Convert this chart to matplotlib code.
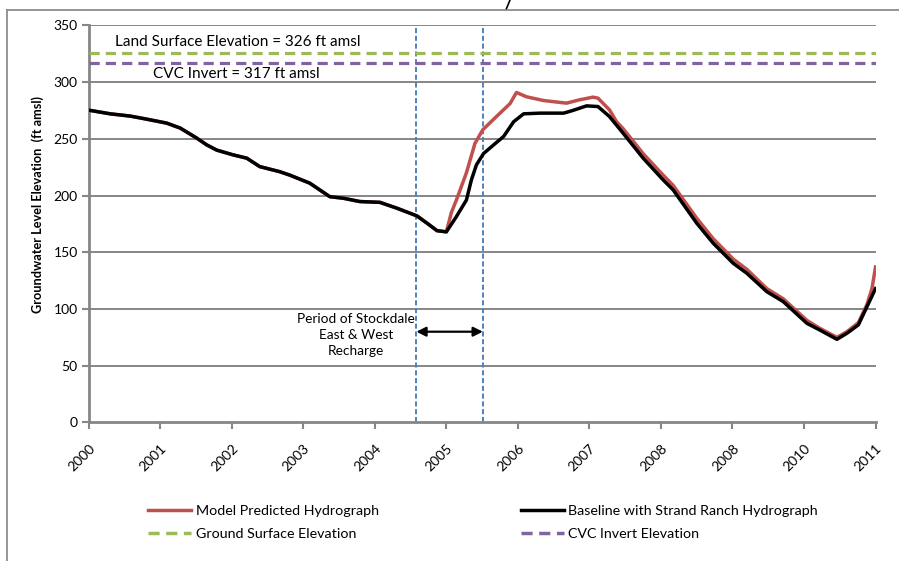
import matplotlib
matplotlib.use("Agg")
import matplotlib.pyplot as plt
from matplotlib.lines import Line2D

plt.rcParams['font.family'] = ['Lato', 'DejaVu Sans']

# baseline hydrograph (black)
base_years = [2000.02, 2000.30, 2000.58, 2000.81, 2001.09, 2001.28, 2001.51, 2001.65,
              2001.79, 2002.02, 2002.21, 2002.39, 2002.67, 2002.81, 2003.09, 2003.37,
              2003.56, 2003.79, 2004.07, 2004.31, 2004.59, 2004.73, 2004.87, 2005.00,
              2005.14, 2005.28, 2005.35, 2005.42, 2005.52, 2005.66, 2005.80, 2005.94,
              2006.08, 2006.31, 2006.64, 2006.77, 2006.96, 2007.12, 2007.28, 2007.47,
              2007.75, 2008.03, 2008.17, 2008.50, 2008.73, 2009.01, 2009.20, 2009.48,
              2009.71, 2010.04, 2010.22, 2010.46, 2010.60, 2010.76, 2010.88, 2011.00]
base_vals = [275, 272, 270, 267.3, 263.8, 259.4, 250.6, 244.6,
             240, 235.8, 232.9, 225.5, 221, 218, 210.9, 199,
             197.6, 194.7, 194, 188.8, 182, 175.6, 169, 168,
             181.4, 196, 213.8, 227, 237, 244.6, 252, 265,
             272, 272.6, 272.6, 275, 279, 278.4, 269.6, 255,
             233, 213.8, 205, 175.6, 158, 140.3, 131.5, 115.3,
             106.5, 87.4, 81.5, 73.3, 78.6, 86, 102, 118]

# model predicted hydrograph (red)
model_years = [2000.02, 2000.30, 2000.58, 2000.81, 2001.09, 2001.28, 2001.51, 2001.65,
               2001.79, 2002.02, 2002.21, 2002.39, 2002.67, 2002.81, 2003.09, 2003.37,
               2003.56, 2003.79, 2004.07, 2004.31, 2004.59, 2004.73, 2004.87, 2005.00,
               2005.07, 2005.14, 2005.28, 2005.40, 2005.51, 2005.70, 2005.89, 2005.98,
               2006.12, 2006.36, 2006.68, 2006.86, 2007.05, 2007.12, 2007.28, 2007.38,
               2007.47, 2007.75, 2008.03, 2008.17, 2008.50, 2008.73, 2009.01, 2009.20,
               2009.48, 2009.71, 2010.04, 2010.22, 2010.46, 2010.60, 2010.76, 2010.88,
               2010.95, 2011.00]
model_vals = [275, 272, 270, 267.3, 263.8, 259.4, 250.6, 244.6,
              240, 235.8, 232.9, 225.5, 221, 218, 210.9, 199,
              197.6, 194.7, 194, 188.8, 182, 175.6, 169, 168,
              185, 196, 220, 246, 258, 269.6, 281, 290.8,
              287, 283.7, 281.4, 284.3, 286.7, 285.8, 275.5, 265,
              259, 237, 218, 209, 180, 162, 144, 135,
              118, 109, 90, 83, 75, 80, 88, 104,
              118, 137]

land_surface = 326
cvc_invert = 317
recharge_start, recharge_end = 2004.58, 2005.51

year_ticks = list(range(2000, 2012))
year_labels = ['2000', '2001', '2002', '2003', '2004', '2005', '2006', '2007',
               '2008', '2008', '2010', '2011']
y_ticks = [0, 50, 100, 150, 200, 250, 300, 350]

red = '#C0504D'
green = '#9BBB59'
purple = '#8064A2'
blue = '#4F81BD'
gray = '#868686'

fig = plt.figure(figsize=(8.99, 5.61), dpi=100)
ax = fig.add_axes([0.0987, 0.2469, 0.8752, 0.708])

for yv in y_ticks[1:]:
    ax.axhline(yv, color=gray, lw=1.4, zorder=1)

ax.axhline(land_surface, color=green, lw=2.3, dashes=(3.2, 1.9), zorder=3)
ax.axhline(cvc_invert, color=purple, lw=2.3, dashes=(3.2, 1.9), zorder=3)

for xv in (recharge_start, recharge_end):
    ax.axvline(xv, color=blue, lw=1.4, dashes=(2.6, 1.4), zorder=2)

ax.plot(model_years, model_vals, color=red, lw=2.5, zorder=4)
ax.plot(base_years, base_vals, color='black', lw=2.5, zorder=5)

ax.annotate('', xy=(recharge_start, 80), xytext=(recharge_end, 80),
            arrowprops=dict(arrowstyle='<|-|>', color='black', lw=1.6,
                            mutation_scale=14, shrinkA=0, shrinkB=0), zorder=6)
ax.text(2003.74, 77.5, 'Period of Stockdale\nEast & West\nRecharge', ha='center',
        va='center', multialignment='center', fontsize=9.8, linespacing=1.4)

ax.text(2000.37, 335.5, 'Land Surface Elevation = 326 ft amsl', fontsize=11,
        va='center', ha='left')
ax.text(2000.90, 307.5, 'CVC Invert = 317 ft amsl', fontsize=11,
        va='center', ha='left')

ax.set_xlim(2000, 2011)
ax.set_ylim(0, 350)
ax.set_xticks(year_ticks)
ax.set_xticklabels(year_labels, rotation=45, ha='right', va='top',
                   rotation_mode='anchor', fontsize=10)
ax.set_yticks(y_ticks)
ax.tick_params(axis='y', labelsize=10, length=5, width=1.5, color=gray, pad=3)
ax.tick_params(axis='x', length=5, width=1.5, color=gray, pad=9)
for s in ('top', 'right'):
    ax.spines[s].set_visible(False)
for s in ('left', 'bottom'):
    ax.spines[s].set_color(gray)
    ax.spines[s].set_linewidth(2)

ax.set_ylabel('Groundwater Level Elevation  (ft amsl)', fontsize=9.2,
              fontweight='bold')
ax.yaxis.set_label_coords(-0.057, 0.548)

handles = [Line2D([], [], color=red, lw=2.5),
           Line2D([], [], color=green, lw=2.5, dashes=(3.2, 1.9)),
           Line2D([], [], color='black', lw=2.5),
           Line2D([], [], color=purple, lw=2.5, dashes=(3.2, 1.9))]
labels = ['Model Predicted Hydrograph', 'Ground Surface Elevation',
          'Baseline with Strand Ranch Hydrograph', 'CVC Invert Elevation']
fig.legend(handles, labels, ncol=2, loc='upper left',
           bbox_to_anchor=(0.165, 0.099), frameon=False, fontsize=10.3,
           handlelength=3.0, handletextpad=0.3, columnspacing=9.95,
           labelspacing=0.75, borderaxespad=0, borderpad=0)

# outer chart frame and stray stroke at top
fig.add_artist(Line2D([7 / 899, 7 / 899], [0, 1 - 10 / 561], color='#8c8c8c', lw=1.3))
fig.add_artist(Line2D([7 / 899, 1], [1 - 9.5 / 561, 1 - 9.5 / 561], color='#8c8c8c', lw=1.3))
fig.add_artist(Line2D([506.5 / 899, 510 / 899], [1 - 8.5 / 561, 1], color='black', lw=1.2))

fig.savefig('out.png', dpi=100)
